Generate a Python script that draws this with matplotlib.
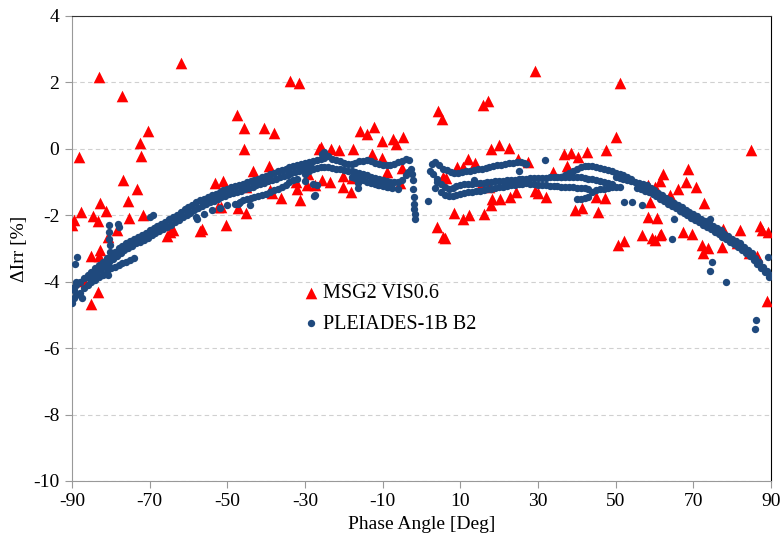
import matplotlib
matplotlib.use("Agg")
import matplotlib.pyplot as plt

plt.rcParams['font.family'] = ['Liberation Serif', 'DejaVu Serif']
plt.rcParams['axes.unicode_minus'] = False

# MSG2 VIS0.6 (red triangles)
msg_x = [-90.0, -89.5, -88.2, -87.8, -86.9, -85.1, -85.1, -84.5, -83.4, -83.4, -83.0, -83.0,
         -82.8, -82.8, -81.2, -80.8, -78.3, -77.2, -76.9, -75.6, -75.2, -73.3, -72.5, -72.3,
         -71.8, -70.3, -65.6, -64.8, -64.1, -61.9, -57.0, -56.6, -53.2, -52.3, -51.6, -51.0,
         -50.4, -47.6, -47.2, -45.8, -45.6, -45.2, -45.2, -43.3, -40.5, -39.2, -39.0, -38.5,
         -38.1, -36.2, -33.9, -32.3, -32.0, -31.5, -31.3, -29.6, -29.1, -27.4, -26.3, -26.0,
         -25.7, -23.6, -23.3, -21.2, -20.1, -20.1, -18.2, -17.8, -17.6, -15.8, -13.9, -12.8,
         -12.2, -10.2, -10.2, -8.8, -7.3, -6.6, -5.5, -5.1, -4.8,
         3.9, 4.2, 5.2, 5.6, 5.6, 6.1, 6.3, 8.4, 9.1, 10.8, 10.8, 12.1, 12.2, 13.8, 15.3,
         15.8, 16.2, 17.2, 17.5, 17.8, 17.9, 18.1, 20.0, 20.2, 22.5, 22.8, 24.3, 24.9, 27.4,
         29.2, 29.2, 30.1, 32.1, 33.9, 36.7, 37.4, 38.5, 39.5, 40.4, 41.3, 42.5, 44.9, 45.4,
         47.3, 47.5, 50.1, 50.5, 51.1, 52.2, 56.9, 58.4, 58.4, 58.9, 59.3, 60.1, 60.1, 60.7,
         61.4, 61.4, 61.7, 62.3, 64.0, 66.1, 67.3, 68.0, 68.6, 69.7, 70.6, 72.2, 72.4, 72.8,
         73.9, 77.3, 77.7, 81.3, 82.0, 84.4, 84.9, 86.5, 87.2, 87.6, 88.9, 89.3]
msg_y = [-2.30, -2.14, -0.26, -1.90, -3.97, -4.67, -3.22, -2.01, -4.30, -2.17, 2.15, -3.23,
         -3.05, -1.64, -1.87, -2.65, -2.45, 1.59, -0.94, -1.57, -2.07, -1.22, 0.18, -0.22,
         -1.99, 0.55, -2.62, -2.50, -2.45, 2.57, -2.47, -2.40, -1.04, -1.76, -1.76, -0.98,
         -2.30, 1.02, -1.79, 0.64, 0.01, -1.14, -1.94, -0.66, 0.64, -0.51, -1.24, -1.32,
         0.49, -1.49, 2.03, -0.99, -1.22, 1.99, -1.54, -1.10, -0.76, -1.10, 0.00, 0.06,
         -0.94, -0.99, 0.01, -0.04, -0.82, -1.16, -1.29, -0.89, 0.01, 0.54, 0.44, -0.17,
         0.67, 0.24, -0.29, -0.69, 0.29, 0.14, -1.04, -0.59, 0.37,
         -2.35, 1.14, 0.89, -0.84, -2.65, -2.68, -0.89, -1.94, -0.54, -0.54, -2.12, -0.32,
         -1.99, -0.42, -1.09, 1.32, -1.96, 1.44, -1.14, 0.01, -1.69, -1.51, 0.11, -1.51,
         0.04, -1.46, -1.29, -0.32, -0.41,
         2.35, -1.26, -1.32, -1.44, -0.69, -0.17, -0.51, -0.12, -1.84, -0.24, -1.79, -0.09,
         -1.44, -1.89, -1.49, -0.02, 0.37, -2.90, 1.99, -2.77, -2.58, -1.09, -2.05, -1.59,
         -2.67, -1.14, -2.75, -2.09, -0.96, -2.60, -2.57, -0.76, -1.39, -1.22, -2.50, -0.99,
         -0.62, -2.55, -1.16, -2.90, -3.13, -1.64, -3.00, -2.97, -2.40, -2.83, -2.45, -3.13,
         -0.02, -3.23, -2.32, -2.45, -4.58, -2.50]

# PLEIADES-1B B2 (blue dots), read band by band
pl_main_x = [-90, -89, -88, -87, -86, -85, -84, -83, -82, -81, -80, -79, -78, -77, -76, -75,
             -74, -73, -72, -71, -70, -69, -68, -67, -66, -65, -64, -63, -62, -61, -60, -59,
             -58, -57, -56, -55, -54, -53, -52, -51, -50, -49, -48, -47, -46, -45, -44, -43,
             -42, -41, -40, -39, -38, -37, -36, -35, -34, -33, -32, -31, -30, -29, -28, -27, -26]
pl_main_y = [-4.20, -4.10, -4.00, -3.90, -3.80, -3.70, -3.60, -3.50, -3.40, -3.30, -3.20, -3.10,
             -3.00, -2.92, -2.85, -2.78, -2.70, -2.64, -2.58, -2.52, -2.45, -2.38, -2.32, -2.26,
             -2.20, -2.12, -2.05, -1.98, -1.90, -1.82, -1.75, -1.68, -1.60, -1.55, -1.50, -1.45,
             -1.40, -1.35, -1.30, -1.25, -1.20, -1.16, -1.12, -1.08, -1.05, -1.01, -0.97, -0.94,
             -0.90, -0.85, -0.81, -0.76, -0.72, -0.68, -0.64, -0.60, -0.56, -0.52, -0.49, -0.45,
             -0.42, -0.39, -0.36, -0.33, -0.30]

pl_main2_x = [-85.5, -84.5, -83.5, -82.5, -81.5, -80.5, -79.5, -78.5, -77.5, -76.5, -75.5, -74.5,
              -73.5, -72.5, -71.5, -70.5, -69.5, -68.5, -67.5, -66.5, -65.5, -64.5, -63.5, -62.5,
              -61.5, -60.5, -59.5, -58.5, -57.5, -56.5, -55.5, -54.5, -53.5, -52.5, -51.5, -50.5,
              -49.5, -48.5, -47.5, -46.5, -45.5, -44.5, -43.5, -42.5, -41.5, -40.5, -39.5, -38.5,
              -37.5, -36.5, -35.5, -34.5, -33.5, -32.5, -31.5, -30.5, -29.5, -28.5]
pl_main2_y = [-3.90, -3.80, -3.70, -3.62, -3.52, -3.42, -3.32, -3.22, -3.14, -3.06, -2.98, -2.92,
              -2.85, -2.80, -2.74, -2.68, -2.60, -2.54, -2.48, -2.42, -2.36, -2.28, -2.20, -2.14,
              -2.06, -1.98, -1.92, -1.85, -1.78, -1.72, -1.66, -1.61, -1.56, -1.51, -1.46, -1.42,
              -1.37, -1.33, -1.30, -1.26, -1.22, -1.18, -1.14, -1.10, -1.06, -1.02, -0.98, -0.94,
              -0.90, -0.86, -0.82, -0.78, -0.74, -0.70, -0.66, -0.62, -0.58, -0.55]

pl_low_x = [-90, -89.5, -89, -88, -87, -86, -85, -84, -83, -82, -81, -80, -79, -78, -77, -76,
            -75, -74, -89.5, -89, -87.5]
pl_low_y = [-4.65, -4.50, -4.40, -4.35, -4.20, -4.10, -4.00, -3.95, -3.85, -3.80, -3.70, -3.60,
            -3.55, -3.50, -3.45, -3.40, -3.35, -3.30, -4.25, -4.00, -4.50]

pl_low2_x = [-58, -56, -54, -52, -50, -48, -47, -46, -45, -44, -43, -42, -41, -40, -39, -38,
             -37, -36, -35, -34, -33, -32, -30, -28, -27]
pl_low2_y = [-2.05, -1.95, -1.85, -1.78, -1.70, -1.65, -1.62, -1.55, -1.50, -1.47, -1.44, -1.42,
             -1.40, -1.36, -1.30, -1.25, -1.20, -1.15, -1.08, -1.00, -0.95, -0.92, -0.98, -1.05,
             -1.10]

pl_mid_x = [-25, -24, -23, -22, -21, -20, -19, -18, -17, -16, -15, -14, -13, -12, -11, -10, -9,
            -8, -7, -6, -5, -4, -3.2]
pl_mid_y = [-0.28, -0.22, -0.30, -0.35, -0.38, -0.42, -0.45, -0.45, -0.42, -0.38, -0.36, -0.35,
            -0.38, -0.42, -0.45, -0.48, -0.50, -0.50, -0.45, -0.40, -0.36, -0.32, -0.34]

pl_mid2_x = [-30, -29, -28, -27, -26, -25, -24, -23, -22, -21, -20, -19, -18, -17, -16, -15,
             -14, -13, -12, -11, -10, -9, -8, -7, -6, -5, -4, -3.5]
pl_mid2_y = [-0.75, -0.68, -0.62, -0.58, -0.55, -0.55, -0.55, -0.58, -0.60, -0.62, -0.65, -0.66,
             -0.68, -0.70, -0.72, -0.76, -0.80, -0.84, -0.88, -0.92, -0.95, -0.98, -1.00, -1.00,
             -1.00, -0.95, -0.80, -0.70]

pl_mid3_x = [-18, -17, -16, -15, -14, -13, -12, -11, -10, -9]
pl_mid3_y = [-0.85, -0.88, -0.90, -0.95, -1.00, -1.02, -1.05, -1.08, -1.12, -1.15]

pl_drop_x = [-2.6, -2.4, -2.2, -2.1, -2.0, -1.9, -1.8, -1.7, -1.6]
pl_drop_y = [-0.60, -0.75, -0.95, -1.20, -1.45, -1.65, -1.80, -1.95, -2.10]

pl_r1_x = [2.6, 3.5, 4.5, 5.5, 6.5, 7.5, 8.5, 9.5, 10.5, 11.5, 12.5, 13.5, 14.5, 15.5, 16.5,
           17.5, 18.5, 19.5, 20.5, 21.5, 22.5, 23.5, 24.5, 25.5, 26.5, 27.0]
pl_r1_y = [-0.45, -0.40, -0.50, -0.60, -0.65, -0.70, -0.72, -0.73, -0.70, -0.68, -0.66, -0.64,
           -0.62, -0.60, -0.57, -0.55, -0.52, -0.50, -0.48, -0.46, -0.44, -0.42, -0.40, -0.40,
           -0.42, -0.45]

pl_r2_x = [3, 4, 5, 6, 7, 8, 9, 10, 11, 12, 13, 14, 15, 16, 17, 18, 19, 20, 21, 22, 23, 24,
           25, 26, 27, 28, 29, 30, 31, 32, 33, 34, 35, 36, 37, 38, 39, 40, 41, 42, 43, 44, 45,
           46, 47, 48, 49]
pl_r2_y = [-0.75, -0.90, -1.05, -1.15, -1.20, -1.18, -1.12, -1.08, -1.07, -1.06, -1.05, -1.04,
           -1.03, -1.02, -1.00, -0.99, -0.98, -0.97, -0.96, -0.95, -0.94, -0.93, -0.92, -0.91,
           -0.90, -0.89, -0.88, -0.88, -0.87, -0.87, -0.86, -0.86, -0.85, -0.85, -0.84, -0.84,
           -0.84, -0.85, -0.86, -0.88, -0.90, -0.92, -0.95, -0.97, -1.00, -1.02, -1.05]

pl_r3_x = [5, 6, 7, 8, 9, 10, 11, 12, 13, 14, 15, 16, 17, 18, 19, 20, 21, 22, 23, 24, 25, 26,
           27, 28, 29, 30, 31, 32, 33, 34, 35, 36, 37, 38, 39, 40, 41, 42, 43]
pl_r3_y = [-1.30, -1.38, -1.42, -1.42, -1.38, -1.35, -1.33, -1.31, -1.30, -1.28, -1.26, -1.24,
           -1.22, -1.20, -1.18, -1.16, -1.14, -1.12, -1.10, -1.08, -1.06, -1.05, -1.04, -1.05,
           -1.07, -1.08, -1.10, -1.10, -1.12, -1.12, -1.13, -1.14, -1.15, -1.15, -1.16, -1.17,
           -1.18, -1.18, -1.20]

pl_r4_x = [40, 41, 42, 43, 44, 45, 46, 47, 48, 49, 50, 51]
pl_r4_y = [-1.50, -1.50, -1.48, -1.46, -1.30, -1.25, -1.22, -1.20, -1.18, -1.16, -1.15, -1.15]

pl_hump_x = [36, 37, 38, 39, 40, 41, 42, 43, 44, 45, 46, 47, 48, 49, 50, 51, 52, 53, 54]
pl_hump_y = [-0.85, -0.78, -0.72, -0.66, -0.60, -0.56, -0.53, -0.52, -0.52, -0.54, -0.57, -0.60,
             -0.64, -0.68, -0.72, -0.76, -0.80, -0.85, -0.90]

pl_desc_x = [50, 51, 52, 53, 54, 55, 56, 57, 58, 59, 60, 61, 62, 63, 64, 65, 66, 67, 68, 69,
             70, 71, 72, 73, 74, 75, 76, 77, 78, 79, 80, 81, 82, 83, 84, 85, 86, 87, 88, 89, 90]
pl_desc_y = [-0.85, -0.88, -0.92, -0.95, -0.98, -1.00, -1.03, -1.07, -1.10, -1.17, -1.25, -1.32,
             -1.40, -1.47, -1.55, -1.62, -1.69, -1.76, -1.83, -1.90, -1.97, -2.03, -2.10, -2.17,
             -2.24, -2.31, -2.38, -2.45, -2.55, -2.63, -2.70, -2.77, -2.85, -2.95, -3.05, -3.15,
             -3.30, -3.42, -3.55, -3.68, -3.80]

pl_desc2_x = [55.5, 56.5, 57.5, 58.5, 59.5, 60.5, 61.5, 62.5, 63.5, 64.5, 65.5, 66.5, 67.5,
              68.5, 69.5, 70.5, 71.5, 72.5, 73.5, 74.5, 75.5, 76.5, 77.5, 78.5, 79.5, 80.5,
              81.5, 82.5, 83.5, 84.5, 85.5, 86.5, 87.5, 88.5, 89.5]
pl_desc2_y = [-1.18, -1.22, -1.26, -1.30, -1.36, -1.43, -1.50, -1.58, -1.65, -1.72, -1.79, -1.86,
              -1.93, -2.00, -2.07, -2.14, -2.21, -2.28, -2.35, -2.42, -2.49, -2.56, -2.64, -2.72,
              -2.80, -2.88, -2.96, -3.04, -3.14, -3.24, -3.36, -3.48, -3.60, -3.72, -3.85]

pl_out_x = [-89.3, -88.6, -80.6, -80.5, -80.5, -80.4, -80.3, -80.2, -78.2, -77.8, -69.9, -69.1,
            -57.9, -47.2, -46.7, -44.2, -27.4, -27.6, -16.4, -16.4, -11.3, -10.9, -8.7, -7.5,
            -6.0, 1.6, 2.2, 3.5, 3.9, 13.6, 25.1, 31.9, 52.2, 54.2, 56.9, 64.9, 64.4, 74.3,
            74.7, 74.3, 78.4, 86.2, 85.9, 89.3, -25.0, -25.5]
pl_out_y = [-3.48, -3.25, -3.80, -2.30, -2.50, -2.70, -2.90, -3.10, -2.25, -2.35, -2.05, -2.00,
            -2.10, -1.66, -1.59, -1.69, -1.39, -1.42, -1.04, -1.19, -1.09, -1.07, -1.16, -1.19,
            -1.21, -1.57, -0.66, -1.19, -0.99, -0.94, -0.67, -0.34, -1.59, -1.59, -1.69, -2.12,
            -2.70, -2.12, -3.40, -3.67, -4.00, -5.16, -5.41, -3.27, -0.09, -0.15]

pl_x = (pl_main_x + pl_main2_x + pl_low_x + pl_low2_x + pl_mid_x + pl_mid2_x + pl_mid3_x
        + pl_drop_x + pl_r1_x + pl_r2_x + pl_r3_x + pl_r4_x + pl_hump_x + pl_desc_x
        + pl_desc2_x + pl_out_x)
pl_y = (pl_main_y + pl_main2_y + pl_low_y + pl_low2_y + pl_mid_y + pl_mid2_y + pl_mid3_y
        + pl_drop_y + pl_r1_y + pl_r2_y + pl_r3_y + pl_r4_y + pl_hump_y + pl_desc_y
        + pl_desc2_y + pl_out_y)

x_ticks = [-90, -70, -50, -30, -10, 10, 30, 50, 70, 90]
y_ticks = [-10, -8, -6, -4, -2, 0, 2, 4]

fig = plt.figure(figsize=(7.84, 5.40), dpi=100)
ax = fig.add_axes([0.0918, 0.1093, 0.8916, 0.8611])

ax.scatter(msg_x, msg_y, marker="^", s=70, color="#ff0000", linewidths=0,
           label="MSG2 VIS0.6", zorder=3)
ax.scatter(pl_x, pl_y, marker="o", s=28, color="#1f497d", linewidths=0,
           label="PLEIADES-1B B2", zorder=4)

ax.set_xlim(-90, 90)
ax.set_ylim(-10, 4)
ax.set_xticks(x_ticks)
ax.set_yticks(y_ticks)
ax.tick_params(labelsize=14, length=5, color="#999999", pad=4)
ax.yaxis.grid(True, linestyle=(0, (4, 3)), color="#d0d0d0", linewidth=0.8)
ax.set_axisbelow(True)

ax.spines["left"].set_color("#999999")
ax.spines["bottom"].set_color("#999999")
ax.spines["top"].set_color("#333333")
ax.spines["right"].set_color("#000000")

ax.set_xlabel("Phase Angle [Deg]", fontsize=14, labelpad=4)
ax.set_ylabel("ΔIrr [%]", fontsize=14, labelpad=4)

ax.legend(loc="center left", bbox_to_anchor=(0.313, 0.37), frameon=False, fontsize=14.5,
          handlelength=1.0, handletextpad=0.12, borderpad=0, labelspacing=0.55)

fig.savefig("out.png", dpi=100)
